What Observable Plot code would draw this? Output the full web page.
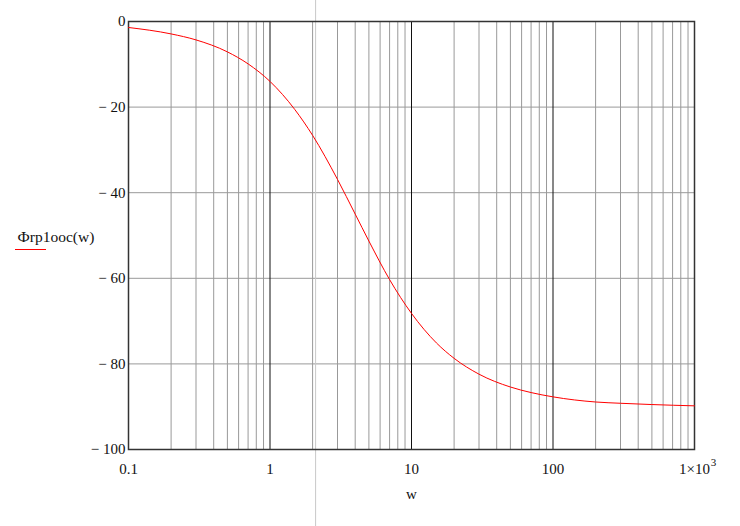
<!DOCTYPE html>
<html>
<head>
<meta charset="utf-8">
<script src="https://cdn.jsdelivr.net/npm/d3@7"></script>
<script src="https://cdn.jsdelivr.net/npm/@observablehq/plot@0.6"></script>
<style>
  html, body { margin: 0; padding: 0; background: #fff; }
  #chart { position: relative; width: 740px; height: 526px; }
  #chart svg { display: block; }
  #chart svg text { font-family: 'Liberation Serif', 'Times New Roman', serif; }
  #legend-line { position: absolute; left: 15px; top: 249px; width: 31px; height: 0; border-top: 1px solid #ff0000; z-index: 2; }
</style>
</head>
<body>
<div id="chart"><div id="legend-line"></div></div>
<script>
// Data
const w = [0.1, 0.2, 0.3, 0.5, 0.7, 1, 1.5, 2, 3, 4, 5, 7, 10, 15, 20, 30, 50, 70, 100, 200, 300, 500, 1000];
const phase = [-1.4, -2.9, -4.3, -7.1, -9.9, -14.0, -20.6, -26.6, -36.9, -45.0, -51.3, -60.3, -68.2, -75.1, -78.7, -82.4, -85.4, -86.7, -87.7, -88.9, -89.2, -89.5, -89.8];

const xTicks = [0.1, 1, 10, 100, 1000];
const xTickLabels = ["0.1", "1", "10", "100", "1×10"];
const xTickExponents = ["", "", "", "", "3"];
const xMinor = [0.2,0.3,0.4,0.5,0.6,0.7,0.8,0.9, 2,3,4,5,6,7,8,9, 20,30,40,50,60,70,80,90, 200,300,400,500,600,700,800,900];
const xMajor = [1, 10, 100];
const yTicks = [0, -20, -40, -60, -80, -100];
const yTickLabels = ["0", "− 20", "− 40", "− 60", "− 80", "− 100"];
const cursorW = [2.1];
const yLabel = "Фrp1ooc(w)";
const xLabel = "w";

const data = w.map((v, i) => ({w: v, p: phase[i]}));
const xTickData = xTicks.map((v, i) => ({v, label: xTickLabels[i], exp: xTickExponents[i]}));
const yTickData = yTicks.map((v, i) => ({v, label: yTickLabels[i]}));

const font = "'Liberation Serif', 'Times New Roman', serif";

const chart = Plot.plot({
  width: 740,
  height: 526,
  marginLeft: 128,
  marginRight: 46,
  marginTop: 21,
  marginBottom: 77,
  style: {fontFamily: font, fontSize: "15px", color: "#000", background: "#fff"},
  x: {type: "log", domain: [0.1, 1000], axis: null},
  y: {domain: [-100, 0], axis: null},
  marks: [
    Plot.ruleX(xMinor, {stroke: "#999", strokeWidth: 1}),
    Plot.ruleY(yTicks, {stroke: "#999", strokeWidth: 1}),
    Plot.ruleX(xMajor, {stroke: "#111", strokeWidth: 1}),
    Plot.ruleX(cursorW, {stroke: "#c8c8c8", strokeWidth: 1, insetTop: -21, insetBottom: -77}),
    Plot.frame({stroke: "#333", strokeWidth: 1.5}),
    Plot.line(data, {x: "w", y: "p", stroke: "#ff0000", strokeWidth: 1, curve: "monotone-x"}),
    Plot.text(xTickData, {x: "v", frameAnchor: "bottom", dy: 24, text: "label", fill: "#111", fontSize: 15, fontFamily: font}),
    Plot.text(xTickData, {x: "v", frameAnchor: "bottom", dy: 16, dx: 19, textAnchor: "middle", text: "exp", fill: "#111", fontSize: 11, fontFamily: font}),
    Plot.text(yTickData, {y: "v", frameAnchor: "left", dx: -3, textAnchor: "end", text: "label", fill: "#111", fontSize: 15, fontFamily: font}),
    Plot.text([xLabel], {frameAnchor: "bottom", dy: 49, text: d => d, fill: "#111", fontSize: 15, fontFamily: font}),
    Plot.text([yLabel], {frameAnchor: "left", dx: -111, dy: 2, textAnchor: "start", text: d => d, fill: "#111", fontSize: 15.5, fontFamily: font})
  ]
});
document.getElementById("chart").appendChild(chart);
</script>
</body>
</html>
